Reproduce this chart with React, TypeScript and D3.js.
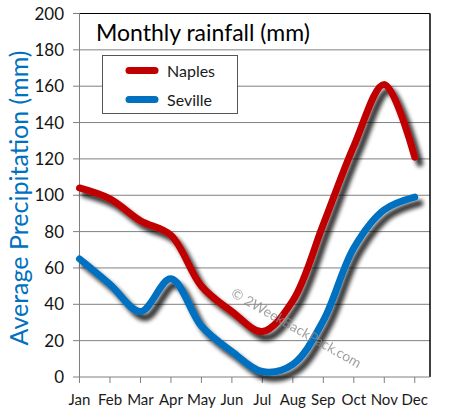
import React from "react";
import * as d3 from "d3";

const months = ["Jan","Feb","Mar","Apr","May","Jun","Jul","Aug","Sep","Oct","Nov","Dec"];
const naples = [104, 98, 86, 78, 50, 36, 25, 42, 84, 127, 161, 121];
const seville = [65, 51, 36, 54, 28, 14, 3, 7, 31, 71, 92, 99];
const yTicks = [0, 20, 40, 60, 80, 100, 120, 140, 160, 180, 200];
const seriesNames = ["Naples", "Seville"];
const seriesColors = ["#c00000", "#0070c0"];

const W = 451, H = 418;
const left = 79.5, right = 430, top = 13.5, bottom = 377;
const FONT = "Lato, 'Open Sans', sans-serif";

export default function App() {
  const x = d3.scaleLinear().domain([0, 11.5]).range([left, right]);
  const y = d3.scaleLinear().domain([0, 200]).range([bottom, top]);
  const line = d3.line<number>()
    .x((_, i) => x(i))
    .y((d) => y(d))
    .curve(d3.curveCatmullRom.alpha(0.5));
  const series = [naples, seville];
  return (
    <svg width={W} height={H} style={{ position: "absolute", left: 0, top: 0, background: "#fff" }}>
      <defs>
        <filter id="shadow" x="-10%" y="-10%" width="130%" height="130%">
          <feGaussianBlur in="SourceAlpha" stdDeviation="2.2" />
          <feOffset dx="5" dy="6" result="b" />
          <feComponentTransfer in="b" result="s">
            <feFuncA type="linear" slope="0.8" />
          </feComponentTransfer>
          <feMerge>
            <feMergeNode in="s" />
            <feMergeNode in="SourceGraphic" />
          </feMerge>
        </filter>
      </defs>
      <rect x={0} y={0} width={W} height={H} fill="#fff" />
      {yTicks.map((t) => (
        <g key={t}>
          {t > 0 && t < 200 && (
            <line x1={73} x2={right} y1={y(t)} y2={y(t)} stroke="#808080" strokeWidth={1} />
          )}
          {(t === 0 || t === 200) && (
            <line x1={73} x2={left} y1={y(t)} y2={y(t)} stroke="#808080" strokeWidth={1} />
          )}
          <text x={64} y={y(t) + 6} textAnchor="end" fontFamily={FONT} fontSize={17} fill="#141414">{t}</text>
        </g>
      ))}
      <line x1={left} x2={right} y1={top} y2={top} stroke="#000" strokeWidth={1.2} />
      <line x1={right} x2={right} y1={top} y2={bottom} stroke="#000" strokeWidth={1.5} />
      <line x1={left} x2={right} y1={bottom} y2={bottom} stroke="#808080" strokeWidth={1} />
      <line x1={left} x2={left} y1={top} y2={383} stroke="#808080" strokeWidth={1} />
      {months.map((m, i) => (
        <g key={m}>
          <line x1={x(i)} x2={x(i)} y1={bottom} y2={383} stroke="#808080" strokeWidth={1} />
          <text x={x(i)} y={405} textAnchor="middle" fontFamily={FONT} fontSize={15} fill="#1a1a1a">{m}</text>
        </g>
      ))}
      <text x={96} y={41} fontFamily={FONT} fontSize={23} fill="#000">Monthly rainfall (mm)</text>
      <rect x={102.5} y={55.5} width={135} height={58} fill="#fff" stroke="#555" strokeWidth={1} />
      {seriesNames.map((n, i) => (
        <g key={n}>
          <line x1={129} x2={155} y1={70.5 + i * 29} y2={70.5 + i * 29} stroke={seriesColors[i]} strokeWidth={7} strokeLinecap="round" />
          <text x={167} y={77 + i * 29} fontFamily={FONT} fontSize={16} fill="#1a1a1a">{n}</text>
        </g>
      ))}
      {series.map((s, i) => (
        <path key={i} d={line(s) || ""} fill="none" stroke={seriesColors[i]} strokeWidth={7} strokeLinecap="round" strokeLinejoin="round" filter="url(#shadow)" />
      ))}
      <text transform="translate(230,296) rotate(29.5)" fontFamily={FONT} fontSize={14} fill="#8a8a8a" opacity={0.8}>© 2WeekBackPack.com</text>
      <text transform="translate(28,198) rotate(-90)" textAnchor="middle" fontFamily={FONT} fontSize={25} fill="#0070c0">Average Precipitation (mm)</text>
    </svg>
  );
}
